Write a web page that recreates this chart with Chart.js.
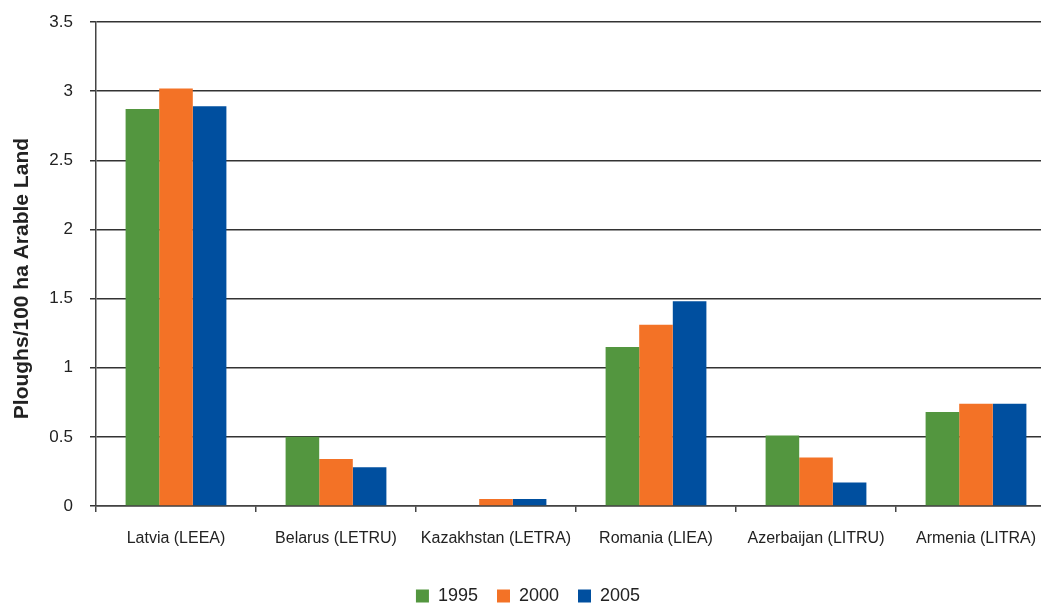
<!DOCTYPE html>
<html>
<head>
<meta charset="utf-8">
<script src="https://cdn.jsdelivr.net/npm/chart.js@4"></script>
<style>
html,body{margin:0;padding:0;background:#fff;overflow:hidden;width:1041px;height:605px;}
#wrap{position:absolute;left:0;top:0;width:1056px;height:615px;}
</style>
</head>
<body>
<div id="wrap"><canvas id="c" width="1056" height="615"></canvas></div>
<script>
const categories = ["Latvia (LEEA)", "Belarus (LETRU)", "Kazakhstan (LETRA)", "Romania (LIEA)", "Azerbaijan (LITRU)", "Armenia (LITRA)"];
const seriesNames = ["1995", "2000", "2005"];
const values1995 = [2.87, 0.50, 0, 1.15, 0.51, 0.68];
const values2000 = [3.02, 0.34, 0.05, 1.31, 0.35, 0.74];
const values2005 = [2.89, 0.28, 0.05, 1.48, 0.17, 0.74];
const yTicks = [0, 0.5, 1, 1.5, 2, 2.5, 3, 3.5];
const yTitle = "Ploughs/100 ha Arable Land";

const colors = ["#53963f", "#f37226", "#004f9f"];
const FONT = "'Liberation Sans', Arial, sans-serif";

new Chart(document.getElementById('c'), {
  type: 'bar',
  data: {
    labels: categories,
    datasets: [values1995, values2000, values2005].map((d, i) => ({
      label: seriesNames[i],
      data: d,
      backgroundColor: colors[i],
      borderWidth: 0,
      barPercentage: 1.0,
      categoryPercentage: 0.63
    }))
  },
  options: {
    responsive: false,
    animation: false,
    layout: { padding: { top: 22, right: 0, left: 0, bottom: 0 } },
    plugins: {
      legend: {
        position: 'bottom',
        labels: {
          font: { family: FONT, size: 18 },
          color: '#222',
          boxWidth: 13,
          boxHeight: 13,
          padding: 19
        }
      },
      tooltip: { enabled: false }
    },
    scales: {
      x: {
        grid: { display: true, drawOnChartArea: false, drawTicks: true, tickLength: 6, color: '#444', lineWidth: 1.5, offset: true },
        border: { color: '#444', width: 1.5 },
        ticks: { font: { family: FONT, size: 16 }, color: '#222', padding: 17, maxRotation: 0 },
        afterFit: (s) => { s.height = 62; }
      },
      y: {
        min: 0, max: 3.5,
        afterBuildTicks: (s) => { s.ticks = yTicks.map(v => ({ value: v })); },
        grid: { color: '#333', lineWidth: 1.5, tickLength: 6 },
        border: { color: '#444', width: 1.5 },
        ticks: { font: { family: FONT, size: 17 }, color: '#222', padding: 17, callback: (v) => String(v) },
        title: { display: true, text: yTitle + "     ", font: { family: FONT, size: 21, weight: 'bold' }, color: '#222', padding: { top: 10, bottom: 0 } },
        afterFit: (s) => { s.width = 96; s.paddingTop = 0; s.paddingBottom = 0; }
      }
    }
  }
});
</script>
</body>
</html>
